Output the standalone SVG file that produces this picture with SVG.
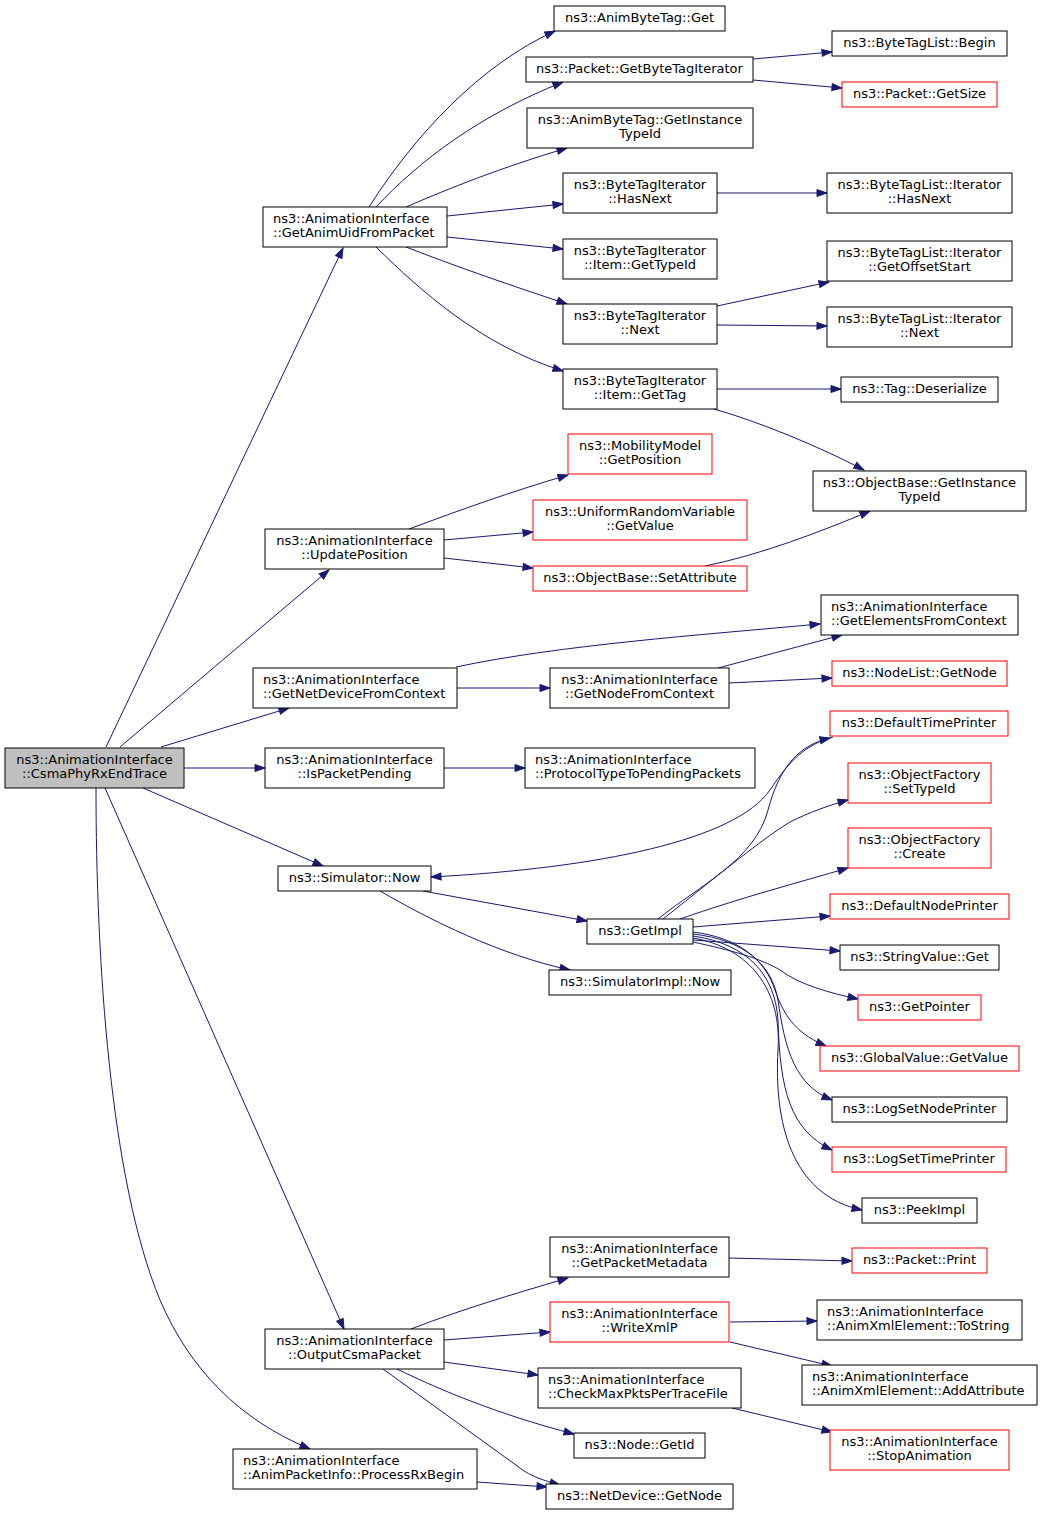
<svg xmlns="http://www.w3.org/2000/svg" width="1043" height="1516" viewBox="0 0 1043 1516">
<style>
.n rect{fill:#fff;stroke:#000;stroke-width:1}
.r rect{stroke:#ff0000}
.g rect{fill:#bfbfbf}
text{font-family:"DejaVu Sans","Liberation Sans",sans-serif;font-size:13px;fill:#000}
.c text{text-anchor:middle}
.e path{fill:none;stroke:#191970;stroke-width:1;marker-end:url(#a)}
</style>
<defs>
<marker id="a" markerUnits="userSpaceOnUse" markerWidth="12" markerHeight="9" refX="10" refY="3.5" orient="auto" overflow="visible">
<path d="M0,0 L10,3.5 L0,7z" fill="#191970" stroke="#191970"/>
</marker>
</defs>
<rect width="1043" height="1516" fill="#fff"/>
<g id="connectors" class="e">
<path d="M106,747 L343,248"/>
<path d="M120,747 L329,570"/>
<path d="M161,747 L289,708"/>
<path d="M184,768 L265,768"/>
<path d="M143,788 L323,866"/>
<path d="M105,788 L344,1329"/>
<path d="M96,788 C96,960 110,1180 160,1300 C190,1370 240,1420 310,1449"/>
<path d="M369,207 C415,135 480,65 555,31"/>
<path d="M376,207 C420,160 480,115 563,82"/>
<path d="M406,207 C450,188 500,168 567,148"/>
<path d="M447,216 L563,204"/>
<path d="M447,237 L563,249"/>
<path d="M406,247 C460,268 510,285 567,304"/>
<path d="M376,247 C420,290 480,345 563,371"/>
<path d="M753,59 L832,52"/>
<path d="M753,80 L842,88"/>
<path d="M717,193 L827,193"/>
<path d="M717,306 L829,282"/>
<path d="M717,325 L827,326"/>
<path d="M717,389 L841,389"/>
<path d="M714,409 C760,422 820,447 864,470"/>
<path d="M409,529 C460,510 510,492 568,475"/>
<path d="M444,540 L533,532"/>
<path d="M444,558 L533,568"/>
<path d="M705,566 C760,555 820,532 870,511"/>
<path d="M456,667 C560,645 700,635 820,624"/>
<path d="M457,688 L550,688"/>
<path d="M718,668 L842,635"/>
<path d="M729,683 L832,678"/>
<path d="M444,768 L525,768"/>
<path d="M423,891 L587,921"/>
<path d="M380,891 C430,920 500,955 570,970"/>
<path d="M833,737 C805,745 790,760 770,790 C735,840 600,868 431,877"/>
<path d="M658,919 C700,885 755,860 768,810 C780,765 800,745 830,738"/>
<path d="M663,919 C700,890 760,840 790,822 C810,812 830,805 848,800"/>
<path d="M680,919 C740,898 800,882 848,868"/>
<path d="M693,927 L830,916"/>
<path d="M693,940 L840,951"/>
<path d="M693,942 C730,950 760,958 780,970 C800,985 830,993 858,999"/>
<path d="M693,932 C740,938 765,960 775,990 C785,1020 800,1035 826,1046"/>
<path d="M693,934 C745,940 772,965 778,1000 C785,1050 795,1085 832,1100"/>
<path d="M693,936 C748,944 775,975 778,1020 C780,1090 790,1130 832,1150"/>
<path d="M693,938 C750,948 782,990 778,1050 C774,1120 790,1195 862,1210"/>
<path d="M411,1329 C460,1310 510,1295 568,1278"/>
<path d="M444,1340 L550,1332"/>
<path d="M444,1362 L538,1375"/>
<path d="M397,1369 C440,1390 500,1415 574,1434"/>
<path d="M383,1369 L520,1468 C530,1476 545,1481 560,1485"/>
<path d="M477,1482 L547,1487"/>
<path d="M729,1258 L852,1261"/>
<path d="M730,1322 L817,1321"/>
<path d="M730,1342 L832,1366"/>
<path d="M732,1408 L832,1432"/>
</g>
<g id="n0" class="n g c"><rect x="5" y="748" width="179" height="40"/><text x="94.5" y="764">ns3::AnimationInterface</text><text x="94.5" y="778">::CsmaPhyRxEndTrace</text></g>
<g id="n1" class="n"><rect x="263" y="207" width="184" height="40"/><text x="273" y="223">ns3::AnimationInterface</text><text x="273" y="237">::GetAnimUidFromPacket</text></g>
<g id="n2" class="n c"><rect x="265" y="529" width="179" height="40"/><text x="354.5" y="545">ns3::AnimationInterface</text><text x="354.5" y="559">::UpdatePosition</text></g>
<g id="n3" class="n"><rect x="253" y="668" width="204" height="40"/><text x="263" y="684">ns3::AnimationInterface</text><text x="263" y="698">::GetNetDeviceFromContext</text></g>
<g id="n4" class="n c"><rect x="265" y="748" width="179" height="40"/><text x="354.5" y="764">ns3::AnimationInterface</text><text x="354.5" y="778">::IsPacketPending</text></g>
<g id="n5" class="n c"><rect x="278" y="866" width="153" height="25"/><text x="354.5" y="882">ns3::Simulator::Now</text></g>
<g id="n6" class="n c"><rect x="265" y="1329" width="179" height="40"/><text x="354.5" y="1345">ns3::AnimationInterface</text><text x="354.5" y="1359">::OutputCsmaPacket</text></g>
<g id="n7" class="n"><rect x="233" y="1449" width="244" height="40"/><text x="243" y="1465">ns3::AnimationInterface</text><text x="243" y="1479">::AnimPacketInfo::ProcessRxBegin</text></g>
<g id="n8" class="n c"><rect x="554" y="6" width="171" height="25"/><text x="639.5" y="22">ns3::AnimByteTag::Get</text></g>
<g id="n9" class="n c"><rect x="526" y="57" width="227" height="25"/><text x="639.5" y="73">ns3::Packet::GetByteTagIterator</text></g>
<g id="n10" class="n c"><rect x="527" y="108" width="226" height="40"/><text x="640" y="124">ns3::AnimByteTag::GetInstance</text><text x="640" y="138">TypeId</text></g>
<g id="n11" class="n c"><rect x="563" y="173" width="154" height="40"/><text x="640" y="189">ns3::ByteTagIterator</text><text x="640" y="203">::HasNext</text></g>
<g id="n12" class="n c"><rect x="563" y="239" width="154" height="40"/><text x="640" y="255">ns3::ByteTagIterator</text><text x="640" y="269">::Item::GetTypeId</text></g>
<g id="n13" class="n c"><rect x="563" y="304" width="154" height="40"/><text x="640" y="320">ns3::ByteTagIterator</text><text x="640" y="334">::Next</text></g>
<g id="n14" class="n c"><rect x="563" y="369" width="154" height="40"/><text x="640" y="385">ns3::ByteTagIterator</text><text x="640" y="399">::Item::GetTag</text></g>
<g id="n15" class="n c"><rect x="832" y="31" width="175" height="25"/><text x="919.5" y="47">ns3::ByteTagList::Begin</text></g>
<g id="n16" class="n r c"><rect x="842" y="82" width="155" height="25"/><text x="919.5" y="98">ns3::Packet::GetSize</text></g>
<g id="n17" class="n c"><rect x="827" y="173" width="185" height="40"/><text x="919.5" y="189">ns3::ByteTagList::Iterator</text><text x="919.5" y="203">::HasNext</text></g>
<g id="n18" class="n c"><rect x="827" y="241" width="185" height="40"/><text x="919.5" y="257">ns3::ByteTagList::Iterator</text><text x="919.5" y="271">::GetOffsetStart</text></g>
<g id="n19" class="n c"><rect x="827" y="307" width="185" height="40"/><text x="919.5" y="323">ns3::ByteTagList::Iterator</text><text x="919.5" y="337">::Next</text></g>
<g id="n20" class="n c"><rect x="841" y="377" width="157" height="25"/><text x="919.5" y="393">ns3::Tag::Deserialize</text></g>
<g id="n21" class="n r c"><rect x="568" y="434" width="144" height="40"/><text x="640" y="450">ns3::MobilityModel</text><text x="640" y="464">::GetPosition</text></g>
<g id="n22" class="n r c"><rect x="533" y="500" width="214" height="40"/><text x="640" y="516">ns3::UniformRandomVariable</text><text x="640" y="530">::GetValue</text></g>
<g id="n23" class="n r c"><rect x="533" y="566" width="214" height="25"/><text x="640" y="582">ns3::ObjectBase::SetAttribute</text></g>
<g id="n24" class="n c"><rect x="813" y="471" width="213" height="40"/><text x="919.5" y="487">ns3::ObjectBase::GetInstance</text><text x="919.5" y="501">TypeId</text></g>
<g id="n25" class="n"><rect x="821" y="595" width="197" height="40"/><text x="831" y="611">ns3::AnimationInterface</text><text x="831" y="625">::GetElementsFromContext</text></g>
<g id="n26" class="n c"><rect x="550" y="668" width="179" height="40"/><text x="639.5" y="684">ns3::AnimationInterface</text><text x="639.5" y="698">::GetNodeFromContext</text></g>
<g id="n27" class="n r c"><rect x="832" y="661" width="175" height="25"/><text x="919.5" y="677">ns3::NodeList::GetNode</text></g>
<g id="n28" class="n r c"><rect x="830" y="711" width="178" height="25"/><text x="919" y="727">ns3::DefaultTimePrinter</text></g>
<g id="n29" class="n"><rect x="525" y="748" width="230" height="40"/><text x="535" y="764">ns3::AnimationInterface</text><text x="535" y="778">::ProtocolTypeToPendingPackets</text></g>
<g id="n30" class="n r c"><rect x="848" y="763" width="143" height="40"/><text x="919.5" y="779">ns3::ObjectFactory</text><text x="919.5" y="793">::SetTypeId</text></g>
<g id="n31" class="n r c"><rect x="848" y="828" width="143" height="40"/><text x="919.5" y="844">ns3::ObjectFactory</text><text x="919.5" y="858">::Create</text></g>
<g id="n32" class="n r c"><rect x="830" y="894" width="179" height="25"/><text x="919.5" y="910">ns3::DefaultNodePrinter</text></g>
<g id="n33" class="n c"><rect x="840" y="945" width="159" height="25"/><text x="919.5" y="961">ns3::StringValue::Get</text></g>
<g id="n34" class="n r c"><rect x="858" y="995" width="123" height="25"/><text x="919.5" y="1011">ns3::GetPointer</text></g>
<g id="n35" class="n r c"><rect x="820" y="1046" width="199" height="25"/><text x="919.5" y="1062">ns3::GlobalValue::GetValue</text></g>
<g id="n36" class="n c"><rect x="832" y="1097" width="175" height="25"/><text x="919.5" y="1113">ns3::LogSetNodePrinter</text></g>
<g id="n37" class="n r c"><rect x="832" y="1147" width="174" height="25"/><text x="919" y="1163">ns3::LogSetTimePrinter</text></g>
<g id="n38" class="n c"><rect x="862" y="1198" width="115" height="25"/><text x="919.5" y="1214">ns3::PeekImpl</text></g>
<g id="n39" class="n c"><rect x="587" y="919" width="106" height="25"/><text x="640" y="935">ns3::GetImpl</text></g>
<g id="n40" class="n c"><rect x="549" y="970" width="182" height="25"/><text x="640" y="986">ns3::SimulatorImpl::Now</text></g>
<g id="n41" class="n c"><rect x="550" y="1237" width="179" height="40"/><text x="639.5" y="1253">ns3::AnimationInterface</text><text x="639.5" y="1267">::GetPacketMetadata</text></g>
<g id="n42" class="n r c"><rect x="852" y="1248" width="135" height="25"/><text x="919.5" y="1264">ns3::Packet::Print</text></g>
<g id="n43" class="n r c"><rect x="550" y="1302" width="179" height="40"/><text x="639.5" y="1318">ns3::AnimationInterface</text><text x="639.5" y="1332">::WriteXmlP</text></g>
<g id="n44" class="n"><rect x="817" y="1300" width="205" height="40"/><text x="827" y="1316">ns3::AnimationInterface</text><text x="827" y="1330">::AnimXmlElement::ToString</text></g>
<g id="n45" class="n"><rect x="802" y="1365" width="235" height="40"/><text x="812" y="1381">ns3::AnimationInterface</text><text x="812" y="1395">::AnimXmlElement::AddAttribute</text></g>
<g id="n46" class="n"><rect x="538" y="1368" width="203" height="40"/><text x="548" y="1384">ns3::AnimationInterface</text><text x="548" y="1398">::CheckMaxPktsPerTraceFile</text></g>
<g id="n47" class="n r c"><rect x="830" y="1430" width="179" height="40"/><text x="919.5" y="1446">ns3::AnimationInterface</text><text x="919.5" y="1460">::StopAnimation</text></g>
<g id="n48" class="n c"><rect x="574" y="1433" width="131" height="25"/><text x="639.5" y="1449">ns3::Node::GetId</text></g>
<g id="n49" class="n c"><rect x="546" y="1484" width="187" height="25"/><text x="639.5" y="1500">ns3::NetDevice::GetNode</text></g>
</svg>
